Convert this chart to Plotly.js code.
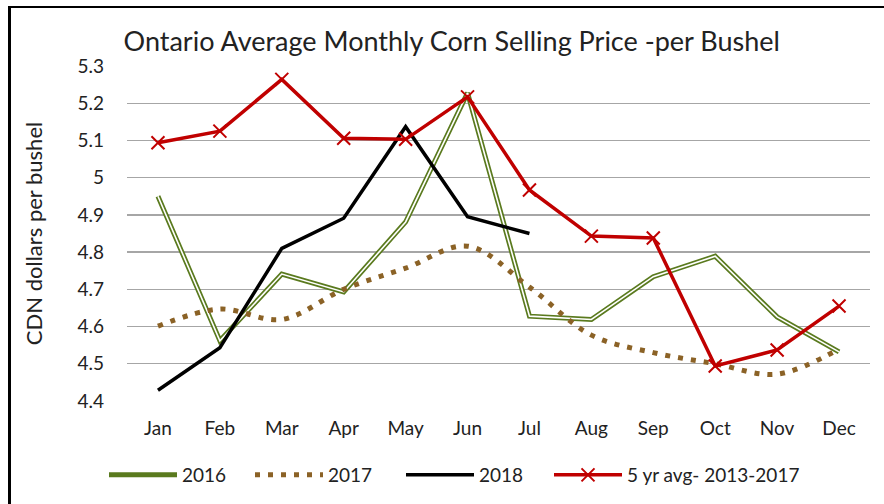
<!DOCTYPE html>
<html>
<head>
<meta charset="utf-8">
<script src="https://cdn.plot.ly/plotly-3.0.1.min.js"></script>
<style>
html,body{margin:0;padding:0;background:#fff;}
#wrap{position:relative;width:884px;height:504px;}
#chart{position:absolute;left:0;top:0;width:884px;height:504px;}
#frame{position:absolute;left:8px;top:6px;width:876px;height:498px;border-left:3px solid #000;border-top:2px solid #000;box-sizing:border-box;pointer-events:none;}
</style>
</head>
<body>
<div id="wrap"><div id="chart"></div><div id="frame"></div></div>
<script>
const months = ["Jan","Feb","Mar","Apr","May","Jun","Jul","Aug","Sep","Oct","Nov","Dec"];
const y2016 = [4.95,4.562,4.741,4.693,4.881,5.228,4.628,4.619,4.734,4.789,4.626,4.532];
const y2017 = [4.601,4.647,4.619,4.70,4.757,4.816,4.706,4.577,4.53,4.50,4.472,4.54];
const y2018 = [4.429,4.543,4.81,4.891,5.137,4.895,4.85];
const yAvg  = [5.094,5.125,5.264,5.106,5.103,5.217,4.967,4.843,4.838,4.494,4.537,4.655];
const yTicks = [4.4,4.5,4.6,4.7,4.8,4.9,5.0,5.1,5.2,5.3];

const FONT = "Lato, 'Liberation Sans', sans-serif";
const green = "#5a7a1e", brown = "#8b6226", red = "#c00000";

const traces = [
  {x: months, y: y2016, name: "2016", mode: "lines", legend: "legend",
   line: {color: green, width: 5}},
  {x: months, y: y2016, name: "2016", mode: "lines", showlegend: false,
   line: {color: "#ffffff", width: 1.6}, hoverinfo: "skip"},
  {x: months, y: y2017, name: "2017", mode: "lines", legend: "legend2",
   line: {color: brown, width: 5, dash: "5px,8px", shape: "spline", smoothing: 1}},
  {x: months.slice(0, y2018.length), y: y2018, name: "2018", mode: "lines", legend: "legend3",
   line: {color: "#000000", width: 3.5}},
  {x: months, y: yAvg, name: "5 yr avg- 2013-2017", mode: "lines+markers", legend: "legend4",
   line: {color: red, width: 3.5},
   marker: {symbol: "x-thin", size: 13, line: {color: red, width: 2}}}
];

function leg(px) {
  return {orientation: "h", xref: "container", yref: "container",
          x: px / 884, xanchor: "left", y: 1 - 475/504, yanchor: "middle",
          font: {family: FONT, size: 19, color: "#222"}, itemwidth: 68,
          bgcolor: "rgba(0,0,0,0)", borderwidth: 0};
}

const layout = {
  width: 884, height: 504,
  margin: {l: 127, r: 14, t: 66, b: 103},
  paper_bgcolor: "#fff", plot_bgcolor: "#fff",
  font: {family: FONT, size: 19, color: "#222"},
  title: {text: "Ontario Average Monthly Corn Selling Price -per Bushel",
          font: {family: FONT, size: 27, color: "#222"},
          x: 0.511, xanchor: "center", xref: "container",
          y: 1 - 42/504, yanchor: "middle", yref: "container"},
  xaxis: {type: "category", tickvals: months, ticktext: months, automargin: false,
          range: [-0.5, 11.5],
          showgrid: false, zeroline: false, showline: false, ticks: "",
          ticklabelstandoff: 14, tickfont: {size: 19}},
  yaxis: {range: [4.4, 5.3], tickvals: yTicks, ticktext: yTicks.map(v => String(v)),
          automargin: false,
          showgrid: true, gridcolor: "#a6a6a6", gridwidth: 1.3, zeroline: false,
          showline: false, ticks: "", ticklabelstandoff: 22, tickfont: {size: 19},
          title: {text: "CDN dollars per bushel", font: {size: 22}, standoff: 28}},
  showlegend: true,
  legend: leg(104),
  legend2: leg(250),
  legend3: leg(401),
  legend4: leg(549)
};

Plotly.newPlot("chart", traces, layout, {displayModeBar: false, staticPlot: true});
</script>
</body>
</html>
